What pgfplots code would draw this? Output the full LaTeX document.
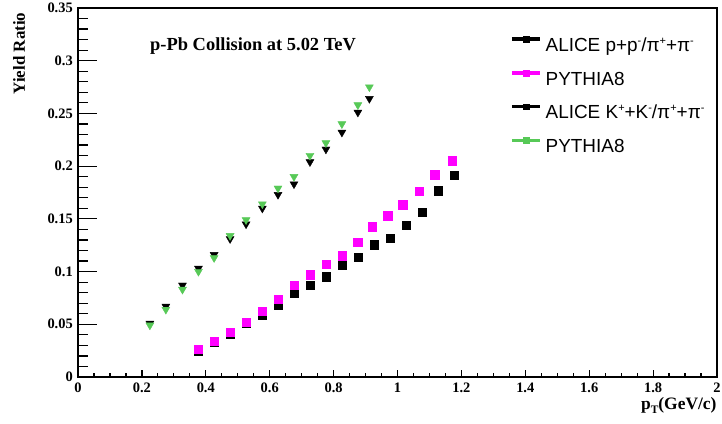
\documentclass[border=0pt]{standalone}
\usepackage{pgfplots}
\usepackage{pgfplotstable}
\pgfplotsset{compat=1.18}
\usepackage{fontspec}
\setmainfont{Liberation Serif}
\newfontfamily\arial{Liberation Sans}
\definecolor{mag}{RGB}{255,0,255}
\definecolor{grn}{RGB}{87,201,87}
\newcommand{\mysup}[1]{\raisebox{7bp}[0pt][0pt]{\fontsize{11}{11}\selectfont #1}}
\newcommand{\mysub}[1]{\raisebox{-4bp}{\fontsize{11.5}{11.5}\selectfont #1}}
\newcommand{\leg}[1]{\raisebox{0pt}[14bp][4bp]{#1}}
\newcommand{\tl}[1]{\mbox{\fontsize{14.5}{16}\selectfont\bfseries #1}}

\pgfplotstableread{
x y
0.377 0.0250
0.427 0.0330
0.477 0.0410
0.527 0.0510
0.577 0.0588
0.627 0.0683
0.677 0.0794
0.727 0.0870
0.777 0.0952
0.827 0.1060
0.877 0.1139
0.927 0.1253
0.977 0.1316
1.027 0.1442
1.077 0.1566
1.127 0.1768
1.177 0.1914
}\alicep

\pgfplotstableread{
x y
0.377 0.0263
0.427 0.0339
0.477 0.0424
0.527 0.0522
0.577 0.0623
0.627 0.0737
0.677 0.0873
0.727 0.0971
0.777 0.1070
0.827 0.1152
0.875 0.1280
0.921 0.1427
0.969 0.1531
1.016 0.1636
1.067 0.1762
1.116 0.1920
1.171 0.2053
}\pythp

\pgfplotstableread{
x y
0.225 0.0508
0.275 0.0670
0.327 0.0870
0.377 0.1030
0.426 0.1160
0.476 0.1310
0.526 0.1450
0.577 0.1600
0.626 0.1730
0.676 0.1830
0.726 0.2040
0.776 0.2160
0.826 0.2320
0.876 0.2510
0.912 0.2640
}\alicek

\pgfplotstableread{
x y
0.225 0.0491
0.275 0.0640
0.327 0.0830
0.377 0.1000
0.426 0.1130
0.476 0.1340
0.526 0.1490
0.577 0.1640
0.626 0.1790
0.676 0.1900
0.726 0.2100
0.776 0.2220
0.826 0.2400
0.876 0.2580
0.912 0.2750
}\pythk

\begin{document}
\begin{tikzpicture}
\pgfplotsset{
  common/.style={
    scale only axis, width=639bp, height=369bp,
    xmin=0, xmax=2, ymin=0, ymax=0.35,
    axis line style={line width=2.5bp},
    tick align=inside,
    xtick pos=bottom, ytick pos=left,
    tick style={line width=1.2bp, black},
  }
}
\begin{axis}[common,
  xtick=\empty,
  ytick={0,0.05,0.1,0.15,0.2,0.25,0.3,0.35},
  yticklabels={\tl{0},\tl{0.05},\tl{0.1},\tl{0.15},\tl{0.2},\tl{0.25},\tl{0.3},\tl{0.35}},
  minor y tick num=4,
  major tick length=19bp, minor tick length=9.5bp,
  yticklabel style={inner sep=0pt, xshift=-5bp},
  clip=false,
  legend cell align=left,
  legend style={at={(rel axis cs:0.676,0.924)}, anchor=north west,
    draw=none, fill=none, inner sep=0pt,
    font=\arial\fontsize{19}{22}\selectfont,
    row sep=17bp,
    nodes={inner sep=0pt},
    /tikz/every odd column/.style={column sep=4bp}},
  legend image code/.code={
    \draw[#1, line width=3.5bp] (0bp,6bp) -- (28bp,6bp);
    \fill[#1] (11bp,3.2bp) rectangle (17bp,8.8bp);
  },
]
\addplot[only marks, mark=square*, color=black, mark size=4.2bp] table {\alicep};
\addlegendentry{\leg{ALICE p+p\mysup{-}/π\mysup{+}+π\mysup{-}}}
\addplot[only marks, mark=square*, color=mag, mark size=4.2bp] table {\pythp};
\addlegendentry{\leg{PYTHIA8}}
\addplot[only marks, mark=triangle*, mark options={rotate=180}, color=black, mark size=4.6bp] table {\alicek};
\addlegendentry{\leg{ALICE K\mysup{+}+K\mysup{-}/π\mysup{+}+π\mysup{-}}}
\addplot[only marks, mark=triangle*, mark options={rotate=180}, color=grn, mark size=4.6bp] table {\pythk};
\addlegendentry{\leg{PYTHIA8}}

\node[font=\bfseries\fontsize{18.5}{20}\selectfont] at (axis cs:0.548,0.3138) {p-Pb Collision at 5.02 TeV};
\node[rotate=90, anchor=east, font=\bfseries\fontsize{17}{18}\selectfont] at (rel axis cs:-0.0923,0.997) {Yield Ratio};
\node[anchor=base east, font=\bfseries\fontsize{17.5}{18}\selectfont] at (rel axis cs:1.0047,-0.0875) {p\mysub{T}(GeV/c)};
\end{axis}
\begin{axis}[common,
  ytick=\empty,
  xtick={0,0.2,0.4,0.6,0.8,1,1.2,1.4,1.6,1.8,2},
  xticklabels={\tl{0},\tl{0.2},\tl{0.4},\tl{0.6},\tl{0.8},\tl{1},\tl{1.2},\tl{1.4},\tl{1.6},\tl{1.8},\tl{2}},
  minor x tick num=3,
  major tick length=7bp, minor tick length=4bp,
  xticklabel style={inner sep=0pt, yshift=-6bp},
]
\end{axis}
\pgfresetboundingbox
\path (current axis.south west) ++(-78bp,-47bp) rectangle ++(722bp,424bp);
\end{tikzpicture}
\end{document}
